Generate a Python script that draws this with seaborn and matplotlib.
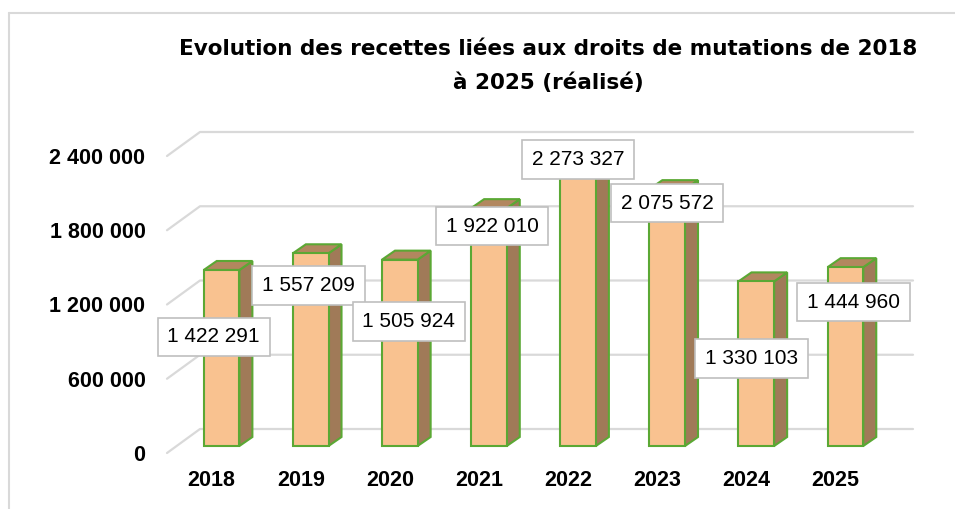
import numpy as np
import pandas as pd
import matplotlib.pyplot as plt
import seaborn as sns
from matplotlib.patches import Polygon
from matplotlib.lines import Line2D

years = ['2018', '2019', '2020', '2021', '2022', '2023', '2024', '2025']
recettes = [1422291, 1557209, 1505924, 1922010, 2273327, 2075572, 1330103, 1444960]
y_ticks = [0, 600000, 1200000, 1800000, 2400000]

TITLE = "Evolution des recettes liées aux droits de mutations de 2018\nà 2025 (réalisé)"

FRONT = '#F9C290'
SIDE = '#A07A58'
TOP = '#B2875F'
EDGE = '#5BA834'
GRID = '#D9D9D9'

# where Excel put each value box, relative to the bar top (pixels)
label_offsets = [(2, -60), (8, -25), (19, -55), (13, -11), (10, 12), (10, -7), (5, -70), (18, -28)]

# fake 3D: bar front / bar back / back wall depth offsets (pixels)
BAR_FRONT = (10, 7)
BAR_BACK = (23, 16)
WALL = (33, 24)


def fmt(v):
    return f'{v:,}'.replace(',', ' ')


sns.set_theme(style='white')
plt.rcParams['font.family'] = ['Liberation Sans', 'DejaVu Sans']

W, H = 955, 509
fig = plt.figure(figsize=(W / 100, H / 100), dpi=100)
ax = fig.add_axes([167 / W, (H - 453) / H, 713 / W, 297 / H])
ax.patch.set_alpha(0)

df = pd.DataFrame({'annee': years, 'recettes': recettes})
sns.barplot(data=df, x='annee', y='recettes', color=FRONT, saturation=1, width=0.4,
            edgecolor=EDGE, linewidth=1.5, ax=ax, zorder=4)
ax.set_xlim(-0.5, len(years) - 0.5)
ax.set_ylim(0, y_ticks[-1])

# pixel -> data units
sx = (ax.get_xlim()[1] - ax.get_xlim()[0]) / ax.bbox.width
sy = (ax.get_ylim()[1] - ax.get_ylim()[0]) / ax.bbox.height


def shift(x, y, off):
    return (x + off[0] * sx, y + off[1] * sy)


# gridlines: side wall diagonal + back wall line
x0, x1 = ax.get_xlim()
for t in y_ticks:
    pts = [(x0, t), shift(x0, t, WALL), shift(x1, t, WALL)]
    ax.plot(*zip(*pts), color=GRID, lw=1.6, zorder=1, clip_on=False)

# move the front faces back, then add side and top faces
for p, v in zip(ax.patches, recettes):
    xl = p.get_x()
    xr = xl + p.get_width()
    p.set_x(xl + BAR_FRONT[0] * sx)
    p.set_y(BAR_FRONT[1] * sy)
    p.set_clip_on(False)
    side = [shift(xr, 0, BAR_FRONT), shift(xr, v, BAR_FRONT),
            shift(xr, v, BAR_BACK), shift(xr, 0, BAR_BACK)]
    top = [shift(xl, v, BAR_FRONT), shift(xr, v, BAR_FRONT),
           shift(xr, v, BAR_BACK), shift(xl, v, BAR_BACK)]
    ax.add_patch(Polygon(side, closed=True, fc=SIDE, ec=EDGE, lw=1.5, zorder=3, clip_on=False))
    ax.add_patch(Polygon(top, closed=True, fc=TOP, ec=EDGE, lw=1.5, zorder=3, clip_on=False))

for i, (v, off) in enumerate(zip(recettes, label_offsets)):
    ax.annotate(fmt(v), xy=(i, v), xytext=off, textcoords='offset pixels',
                ha='center', va='center', fontsize=15, color='black',
                bbox=dict(boxstyle='square,pad=0.47', fc='white', ec='#BFBFBF', lw=1.2),
                zorder=6, annotation_clip=False)

ax.set_yticks(y_ticks, [fmt(t) for t in y_ticks])
ax.set_xticks(range(len(years)), years)
for lab in ax.get_xticklabels() + ax.get_yticklabels():
    lab.set_fontweight('bold')
    lab.set_fontsize(15.5)
    lab.set_color('black')
ax.tick_params(axis='y', length=0, pad=15.5)
ax.tick_params(axis='x', length=0, pad=12.5)
ax.set_xlabel('')
ax.set_ylabel('')
sns.despine(ax=ax, left=True, bottom=True)

# the Excel title is a wide heavy bold; DejaVu Sans Bold gets closest
fig.text(548 / W, 1 - 66 / H, TITLE, ha='center', va='center', fontsize=15.5,
         fontweight='bold', color='black', family=['DejaVu Sans'], linespacing=1.8)

# chart area border
fig.add_artist(Line2D([9 / W, 9 / W], [0, 1 - 13 / H], color=GRID, lw=1.5))
fig.add_artist(Line2D([9 / W, 1], [1 - 13 / H, 1 - 13 / H], color=GRID, lw=1.5))

fig.savefig('out.png', dpi=100)
